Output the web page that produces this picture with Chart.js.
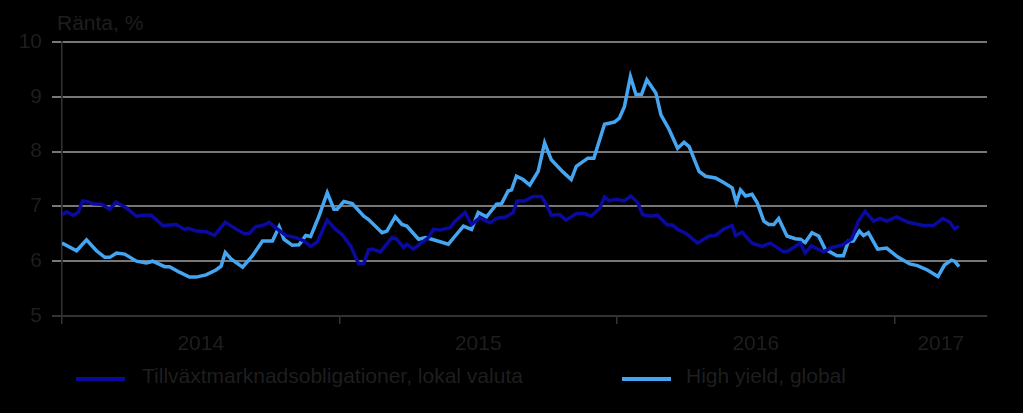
<!DOCTYPE html>
<html lang="sv">
<head>
    <meta charset="UTF-8">
    <title>Ränta, %</title>
    <script src="https://cdn.jsdelivr.net/npm/chart.js"></script>
    <style>
        body {
            margin: 0;
            background: #000;
            font-family: "Liberation Sans", Arial, sans-serif;
            color: #1e1e1e;
        }
        .wrap {
            position: relative;
            width: 1023px;
            height: 413px;
            overflow: hidden;
        }
        .chart-box {
            position: absolute;
            left: 0;
            top: 0;
            width: 1023px;
            height: 360px;
        }
        .title, .legend-text {
            position: absolute;
            font-size: 21px;
            line-height: 21px;
            white-space: nowrap;
        }
        .title { left: 57px; top: 12px; }
        .swatch {
            position: absolute;
            height: 4px;
            width: 49px;
            top: 377px;
        }
    </style>
</head>
<body>
<div class="wrap">
    <div class="title">Ränta, %</div>
    <div class="chart-box"><canvas id="rateChart"></canvas></div>
    <div class="swatch" style="left:76px;background:#0a0aa0"></div>
    <div class="legend-text" style="left:142px;top:365px">Tillväxtmarknadsobligationer, lokal valuta</div>
    <div class="swatch" style="left:622px;background:#45a5f0"></div>
    <div class="legend-text" style="left:686px;top:365px">High yield, global</div>
</div>

<script>
    // months counted from January 2014
    const yearLabels = { 6: "2014", 18: "2015", 30: "2016", 38: "2017" };
    const yearBounds = [0, 12, 24, 36];

    // Tillväxtmarknadsobligationer, lokal valuta
    const emMonths = [0.0, 0.20, 0.49, 0.70, 0.89, 1.13, 1.35, 1.71, 2.07, 2.33, 2.79, 3.22, 3.50, 3.86, 4.36, 4.94,
        5.30, 5.48, 5.80, 6.23, 6.59, 7.06, 7.52, 7.88, 8.10, 8.38, 8.67, 8.96, 9.25, 9.68, 10.11, 10.47, 10.75,
        11.04, 11.47, 11.83, 12.11, 12.48, 12.83, 13.05, 13.26, 13.41, 13.77, 14.27, 14.48, 14.77, 14.91, 15.20,
        15.56, 15.85, 16.06, 16.35, 16.78, 17.00, 17.43, 17.71, 18.07, 18.51, 18.79, 19.22, 19.51, 19.68, 20.01,
        20.37, 20.73, 20.94, 21.16, 21.52, 21.80, 22.24, 22.60, 22.88, 23.24, 23.46, 23.67, 23.96, 24.32, 24.60,
        24.89, 25.11, 25.47, 25.75, 26.18, 26.40, 26.62, 26.97, 27.48, 27.98, 28.26, 28.63, 28.98, 29.13, 29.41,
        29.84, 30.28, 30.63, 31.21, 31.42, 31.93, 32.14, 32.40, 32.93, 33.29, 33.72, 34.15, 34.44, 34.73, 35.09,
        35.37, 35.66, 36.09, 36.59, 37.24, 37.67, 38.10, 38.39, 38.60, 38.79];
    const emValues = [6.85, 6.90, 6.84, 6.89, 7.10, 7.08, 7.05, 7.04, 6.95, 7.08, 6.97, 6.82, 6.84, 6.84, 6.65, 6.67,
        6.58, 6.60, 6.55, 6.54, 6.47, 6.71, 6.59, 6.50, 6.51, 6.63, 6.65, 6.71, 6.61, 6.47, 6.43, 6.37, 6.27,
        6.35, 6.75, 6.58, 6.49, 6.28, 5.95, 5.96, 6.21, 6.22, 6.17, 6.43, 6.40, 6.25, 6.31, 6.22,
        6.34, 6.43, 6.58, 6.57, 6.61, 6.73, 6.89, 6.67, 6.79, 6.70, 6.78, 6.81, 6.89, 7.10, 7.10,
        7.18, 7.18, 7.04, 6.84, 6.85, 6.75, 6.87, 6.87, 6.82, 6.96, 7.17, 7.10, 7.13, 7.10, 7.19,
        7.07, 6.85, 6.82, 6.84, 6.66, 6.66, 6.58, 6.51, 6.33, 6.46, 6.47, 6.59, 6.65, 6.47, 6.53,
        6.33, 6.27, 6.33, 6.17, 6.19, 6.33, 6.15, 6.28, 6.17, 6.25, 6.29, 6.41, 6.73, 6.91, 6.73,
        6.78, 6.73, 6.81, 6.71, 6.65, 6.65, 6.78, 6.71, 6.59, 6.64];

    // High yield, global
    const hyMonths = [0.0, 0.63, 1.06, 1.49, 1.85, 2.07, 2.36, 2.71, 3.22, 3.65, 3.92, 4.44, 4.65, 5.08, 5.51, 5.80,
        6.23, 6.66, 6.88, 7.06, 7.31, 7.81, 8.24, 8.67, 9.10, 9.39, 9.60, 9.96, 10.25, 10.54, 10.75, 11.11, 11.47,
        11.76, 11.90, 12.19, 12.55, 13.05, 13.26, 13.84, 14.05, 14.41, 14.70, 14.91, 15.42, 15.71, 15.99, 16.71,
        17.00, 17.36, 17.71, 18.00, 18.36, 18.79, 19.01, 19.29, 19.44, 19.65, 19.94, 20.23, 20.59, 20.87, 21.16,
        21.66, 22.02, 22.24, 22.74, 23.00, 23.46, 23.89, 24.10, 24.32, 24.58, 24.82, 25.06, 25.29, 25.68, 25.90,
        26.26, 26.62, 26.90, 27.12, 27.55, 27.83, 28.26, 28.63, 28.98, 29.16, 29.34, 29.56, 29.84, 30.06, 30.35,
        30.56, 30.78, 30.99, 31.35, 31.71, 31.93, 32.14, 32.43, 32.72, 33.00, 33.51, 33.79, 34.01, 34.22, 34.48,
        34.66, 34.87, 35.27, 35.66, 36.13, 36.66, 36.99, 37.42, 37.88, 38.16, 38.46, 38.60, 38.79];
    const hyValues = [6.33, 6.19, 6.39, 6.19, 6.07, 6.07, 6.15, 6.13, 6.00, 5.97, 6.00, 5.90, 5.90, 5.80, 5.71, 5.71,
        5.75, 5.84, 5.91, 6.16, 6.04, 5.89, 6.10, 6.37, 6.37, 6.63, 6.40, 6.29, 6.30, 6.47, 6.45, 6.82, 7.25,
        6.95, 6.95, 7.09, 7.05, 6.82, 6.76, 6.52, 6.55, 6.81, 6.67, 6.64, 6.40, 6.43, 6.40, 6.31,
        6.46, 6.64, 6.58, 6.89, 6.81, 7.04, 7.05, 7.28, 7.30, 7.55, 7.49, 7.39, 7.64, 8.16, 7.85,
        7.63, 7.49, 7.73, 7.88, 7.88, 8.50, 8.54, 8.61, 8.82, 9.37, 9.04, 9.04, 9.31, 9.07, 8.67,
        8.40, 8.06, 8.17, 8.09, 7.64, 7.55, 7.52, 7.43, 7.34, 7.07, 7.30, 7.19, 7.22, 7.07, 6.73,
        6.67, 6.67, 6.78, 6.46, 6.41, 6.40, 6.34, 6.52, 6.46, 6.22, 6.10, 6.10, 6.37, 6.37, 6.55,
        6.47, 6.52, 6.22, 6.24, 6.08, 5.95, 5.92, 5.84, 5.72, 5.93, 6.02, 6.00, 5.90];

    const toPoints = (xs, ys) => xs.map((x, i) => ({ x: x, y: ys[i] }));

    const textColor = "#1e1e1e";
    const axisColor = "#333333";
    const gridColor = "#777777";
    const tickFont = { family: "'Liberation Sans', Arial, sans-serif", size: 21 };

    new Chart(document.getElementById("rateChart"), {
        type: "line",
        data: {
            datasets: [
                {
                    label: "Tillväxtmarknadsobligationer, lokal valuta",
                    data: toPoints(emMonths, emValues),
                    borderColor: "#0a0aa0",
                    borderWidth: 3.5,
                    pointRadius: 0,
                    tension: 0
                },
                {
                    label: "High yield, global",
                    data: toPoints(hyMonths, hyValues),
                    borderColor: "#45a5f0",
                    borderWidth: 3.5,
                    pointRadius: 0,
                    tension: 0
                }
            ]
        },
        options: {
            responsive: true,
            maintainAspectRatio: false,
            animation: false,
            layout: { padding: { top: 42, right: 36, left: 0, bottom: 0 } },
            plugins: {
                legend: { display: false },
                tooltip: { enabled: false }
            },
            scales: {
                x: {
                    type: "linear",
                    min: 0,
                    max: 40,
                    afterBuildTicks: scale => {
                        scale.ticks = [0, 6, 12, 18, 24, 30, 36, 38, 40].map(v => ({ value: v }));
                    },
                    afterFit: scale => { scale.height = 44; },
                    ticks: {
                        autoSkip: false,
                        maxRotation: 0,
                        color: textColor,
                        font: tickFont,
                        padding: 8,
                        callback: value => yearLabels[value] || ""
                    },
                    grid: {
                        drawOnChartArea: false,
                        drawTicks: true,
                        tickLength: 8,
                        lineWidth: 1.5,
                        color: ctx => yearBounds.includes(ctx.tick && ctx.tick.value) ? axisColor : "transparent"
                    },
                    border: { color: axisColor, width: 1.5 }
                },
                y: {
                    min: 5,
                    max: 10,
                    afterFit: scale => { scale.width = 62; },
                    ticks: {
                        stepSize: 1,
                        color: textColor,
                        font: tickFont,
                        padding: 10
                    },
                    grid: {
                        tickLength: 10,
                        lineWidth: 2,
                        color: ctx => ctx.tick && ctx.tick.value === 5 ? axisColor : gridColor
                    },
                    border: { color: axisColor, width: 1.5 }
                }
            }
        }
    });
</script>
</body>
</html>
